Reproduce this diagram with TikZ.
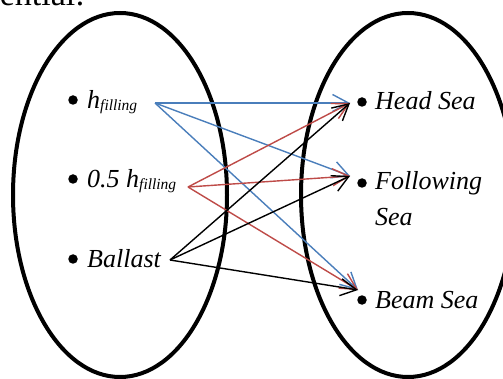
\documentclass[tikz,border=0pt]{standalone}
\usepackage{fontspec}
\setmainfont{Liberation Serif}
\newfontfamily\lsi{LiberationSerif-Italic.ttf}
\usetikzlibrary{arrows.meta,shapes.geometric}
\definecolor{wblue}{RGB}{74,126,187}
\definecolor{wred}{RGB}{190,75,72}
\newcommand{\subfill}{\raisebox{-2pt}{\fontsize{15.5}{16}\selectfont filling}}
\begin{document}
\begin{tikzpicture}[x=1pt,y=-1pt,
  setshape/.style={draw=black,line width=4pt,ellipse,inner sep=0pt,minimum width=214pt,minimum height=364pt},
  lbl/.style={inner sep=0pt,anchor=base west,font=\lsi\fontsize{26}{35}\selectfont},
  dotm/.style={circle,fill=black,inner sep=0pt,minimum size=9.5pt},
  conn/.style={line width=1.4pt,-{Straight Barb[length=16pt,width=17pt,line width=1.4pt]}}]
\useasboundingbox (0,0) rectangle (503,379);
\node[anchor=base east,inner sep=0pt,font=\fontsize{34}{40}\selectfont] (cut) at (85,6) {ential:};
\node[setshape] (L) at (120,195) {};
\node[setshape] (R) at (408,195) {};
% left items
\node[dotm] (b1) at (73,100) {};
\node[lbl] (hf) at (87,109) {h\subfill};
\node[dotm] (b2) at (73,179) {};
\node[lbl] (hh) at (87,188) {0.5 h\subfill};
\node[dotm] (b3) at (73,259) {};
\node[lbl] (ba) at (87,268) {Ballast};
% right items
\node[dotm] (c1) at (362,102) {};
\node[lbl] (hs) at (375,110) {Head Sea};
\node[dotm] (c2) at (362,183) {};
\node[lbl] (fs) at (375,190) {Following};
\node[lbl] (fs2) at (375,226) {Sea};
\node[dotm] (c3) at (362,300) {};
\node[lbl] (bs) at (375,308) {Beam Sea};
% ports
\coordinate (o1) at (155,103);
\coordinate (o2) at (188,187);
\coordinate (o3) at (170,260);
\coordinate (i1) at (350,103);
\coordinate (i2) at (350,176);
\coordinate (i3) at (358,290);
% connectors
\draw[conn,wblue] (o1) -- (i1);
\draw[conn,wblue] (o1) -- (i2);
\draw[conn,wblue] (o1) -- (i3);
\draw[conn,wred] (o2) -- (i1);
\draw[conn,wred] (o2) -- (i2);
\draw[conn,wred] (o2) -- (i3);
\draw[conn,black] (o3) -- (i1);
\draw[conn,black] (o3) -- (i2);
\draw[conn,black] (o3) -- (i3);
\end{tikzpicture}
\end{document}
